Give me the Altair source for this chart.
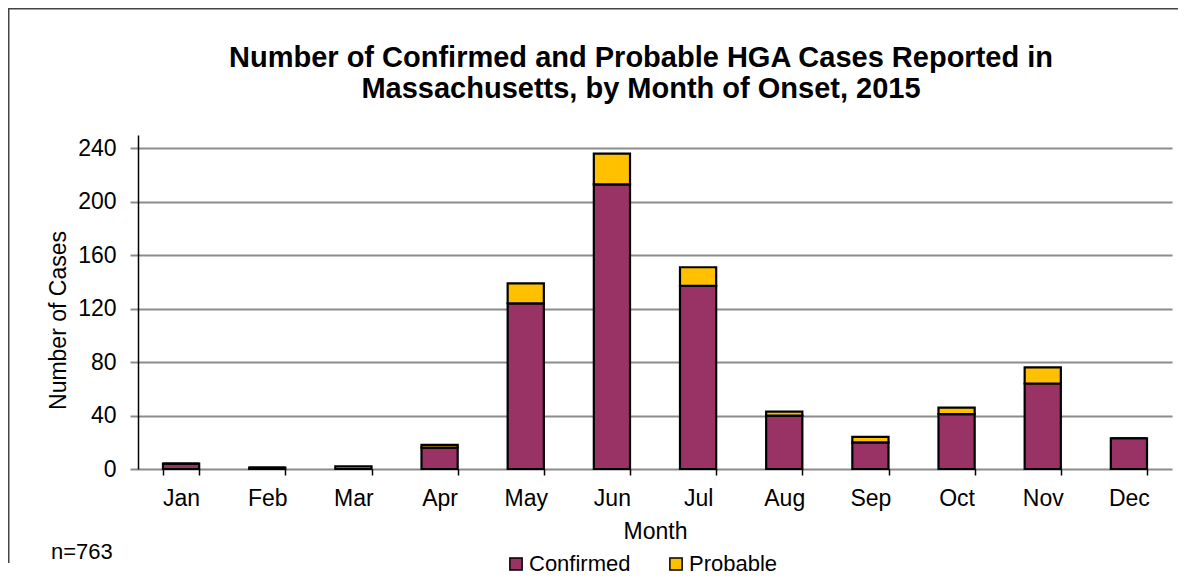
import altair as alt
import pandas as pd

months = ["Jan", "Feb", "Mar", "Apr", "May", "Jun", "Jul", "Aug", "Sep", "Oct", "Nov", "Dec"]
confirmed = [4, 1, 0, 16, 124, 213, 137, 40, 20, 41, 64, 23]
probable = [0, 0, 2, 2, 15, 23, 14, 3, 4, 5, 12, 0]
statuses = ["Confirmed", "Probable"]
colors = ["#993366", "#FFC000"]
y_ticks = [0, 40, 80, 120, 160, 200, 240]
title_line1 = ["Number of Confirmed and Probable HGA Cases Reported in"]
title_line2 = ["Massachusetts, by Month of Onset, 2015"]
note_text = ["n=763"]

rows = []
for m, c, p in zip(months, confirmed, probable):
    rows.append({"Month": m, "Status": "Confirmed", "Cases": c, "ord": 0})
    rows.append({"Month": m, "Status": "Probable", "Cases": p, "ord": 1})
df = pd.DataFrame(rows)

FONT = "Liberation Sans"
W, H = 1034, 334

bars = alt.Chart(df).mark_bar(stroke="black", strokeWidth=2.2).encode(
    x=alt.X("Month:N", sort=months,
            scale=alt.Scale(paddingInner=0.58, paddingOuter=0.29),
            axis=alt.Axis(labelAngle=0, labelFontSize=23, labelFont=FONT, labelColor="black",
                          labelPadding=12, tickBand="extent", tickColor="black", tickSize=6,
                          tickWidth=1.5, domain=False, grid=False,
                          titleFontSize=23, titleFont=FONT, titleFontWeight="normal",
                          titleColor="black", titlePadding=10),
            title="Month"),
    y=alt.Y("Cases:Q", stack="zero",
            scale=alt.Scale(domain=[0, 250], nice=False),
            axis=alt.Axis(values=y_ticks, grid=True, gridColor="#8c8c8c", gridWidth=2,
                          domainColor="black", domainWidth=1.5, tickColor="#8c8c8c",
                          tickSize=8, tickWidth=2, labelFontSize=23, labelFont=FONT,
                          labelColor="black", labelPadding=14,
                          titleFontSize=23, titleFont=FONT, titleFontWeight="normal",
                          titleColor="black", titleX=-68, titleY=185),
            title="Number of Cases"),
    color=alt.Color("Status:N", scale=alt.Scale(domain=statuses, range=colors),
                    legend=alt.Legend(title=None, orient="none", legendX=367, legendY=418,
                                      direction="horizontal", symbolType="square",
                                      symbolSize=150, symbolStrokeColor="black",
                                      symbolStrokeWidth=1.5, symbolOpacity=1,
                                      labelFontSize=22, labelFont=FONT, labelColor="black",
                                      columnPadding=34, labelOffset=2)),
    order=alt.Order("ord:Q", sort="ascending"),
)

border_top = alt.Chart(pd.DataFrame({"a": [0]})).mark_rect(color="#444444").encode(
    x=alt.value(-130), x2=alt.value(1040), y=alt.value(-127), y2=alt.value(-125.5))
border_left = alt.Chart(pd.DataFrame({"b": [0]})).mark_rect(color="#444444").encode(
    x=alt.value(-130), x2=alt.value(-128.5), y=alt.value(-127), y2=alt.value(428))

t1 = alt.Chart(pd.DataFrame({"t": title_line1})).mark_text(
    align="center", baseline="middle", fontSize=29, font=FONT, fontWeight="bold",
    color="black").encode(text="t:N", x=alt.value(503), y=alt.value(-77))
t2 = alt.Chart(pd.DataFrame({"t2": title_line2})).mark_text(
    align="center", baseline="middle", fontSize=29, font=FONT, fontWeight="bold",
    color="black").encode(text="t2:N", x=alt.value(503), y=alt.value(-46))

note = alt.Chart(pd.DataFrame({"n": note_text})).mark_text(
    align="left", baseline="alphabetic", fontSize=22, font=FONT, color="black").encode(
    text="n:N", x=alt.value(-87), y=alt.value(424))

chart = alt.layer(bars, border_top, border_left, t1, t2, note).properties(
    width=W, height=H, padding=0,
).configure_view(stroke=None)

chart.save("out.html", embed_options={"renderer": "svg", "actions": False})
